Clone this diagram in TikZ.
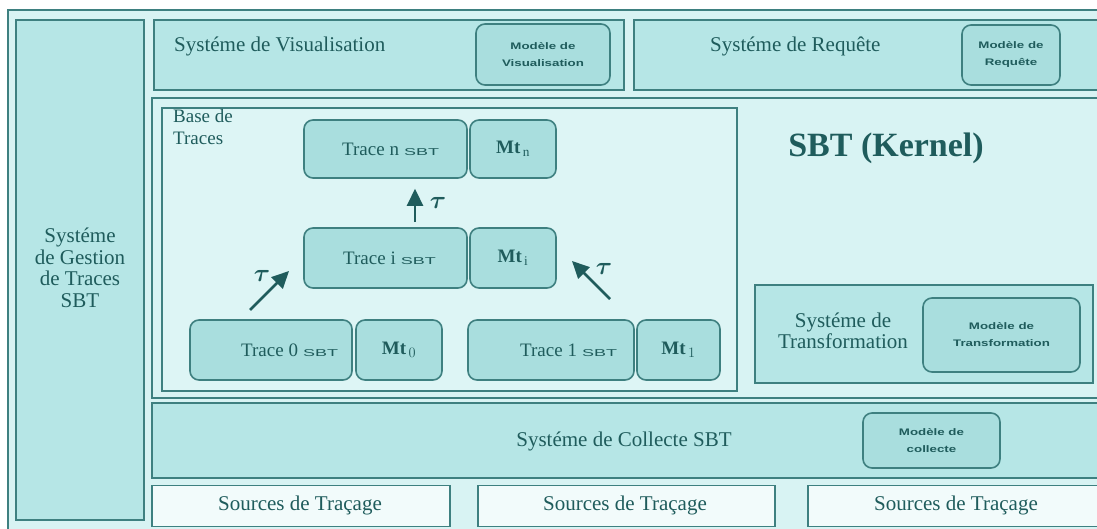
\documentclass[tikz,border=0pt]{standalone}
\usepackage{fontspec}
\usepackage{amsmath}
\usepackage{graphicx}
\setmainfont{Liberation Serif}
\newfontfamily\smallsans{Liberation Sans}
\usetikzlibrary{arrows.meta}
\definecolor{edge}{HTML}{3E8080}
\definecolor{txt}{HTML}{1F5C5C}
\definecolor{boxfill}{HTML}{B6E6E6}
\definecolor{bgfill}{HTML}{D8F3F3}
\definecolor{basefill}{HTML}{DDF5F5}
\definecolor{modfill}{HTML}{A9DEDE}
\definecolor{srcfill}{HTML}{F2FBFB}
\tikzset{
  sysbox/.style={draw=edge, line width=2pt, fill=boxfill, inner sep=0pt},
  kbox/.style={draw=edge, line width=2.4pt, fill=bgfill, inner sep=0pt},
  basebox/.style={draw=edge, line width=1.5pt, fill=basefill, inner sep=0pt},
  rbox/.style={draw=edge, line width=1.6pt, fill=modfill, rounded corners=9pt, inner sep=0pt, text=txt},
  srcbox/.style={draw=edge, line width=1.8pt, fill=srcfill, inner sep=0pt},
  lbl/.style={text=txt, font=\fontsize{21}{21.5}\selectfont, inner sep=0pt, align=center},
  modlbl/.style={text=txt, inner sep=0pt, align=center, font=\smallsans\bfseries\fontsize{9.5}{17}\selectfont},
  tr/.style={text=txt, inner sep=0pt, font=\fontsize{19}{19}\selectfont},
  mt/.style={text=txt, inner sep=0pt, font=\bfseries\fontsize{19}{19}\selectfont},
  arr/.style={draw=txt, line width=2.6pt, -{Triangle[length=17pt,width=16pt]}},
  tau/.style={text=txt, font=\fontsize{26}{26}\selectfont, inner sep=0pt}
}
\newcommand{\sbt}{\hspace{5pt}{\smallsans\fontsize{10}{10}\selectfont\scalebox{1.8}[1]{SBT}}}
\newcommand{\modtxt}[2]{\scalebox{1.4}[1]{#1}\\\scalebox{1.4}[1]{#2}}
\newcommand{\btau}{$\boldsymbol{\tau}$}
\begin{document}
\begin{tikzpicture}[x=1pt,y=-1pt]
\useasboundingbox (0,0) rectangle (1097,529);
\fill[white] (0,0) rectangle (1097,529);
% outer frame
\draw[draw=edge, line width=2pt, fill=bgfill] (8,10) rectangle (1110,540);
% left column
\node[sysbox, minimum width=128, minimum height=500] (gest) at (80,270) {};
\node[lbl] (gestt) at (80,268) {Systéme\\de Gestion\\de Traces\\SBT};
% visualisation
\node[sysbox, minimum width=470, minimum height=70] (visu) at (389,55) {};
\node[lbl, anchor=west] (visut) at (174,46) {Systéme de Visualisation};
\node[rbox, minimum width=134, minimum height=61] (mvisu) at (543,54.5) {};
\node[modlbl] at (mvisu) {\modtxt{Modèle de}{Visualisation}};
% requete
\node[sysbox, minimum width=470, minimum height=70] (req) at (869,55) {};
\node[lbl, anchor=west] (reqt) at (710,46) {Systéme de Requête};
\node[rbox, minimum width=98, minimum height=60] (mreq) at (1011,55) {};
\node[modlbl] at (mreq) {\modtxt{Modèle de}{Requête}};
% kernel
\node[kbox, minimum width=960, minimum height=300] (kern) at (632,248) {};
\node[text=txt, font=\bfseries\fontsize{34}{36}\selectfont, inner sep=0pt, anchor=base] (kernt) at (886,157) {SBT (Kernel)};
% base de traces
\node[basebox, minimum width=575, minimum height=283] (base) at (449.5,249.5) {};
\node[text=txt, font=\fontsize{19}{22}\selectfont, align=left, inner sep=0pt, anchor=north west] (baset) at (173,109) {Base de\\Traces};
% traces
\node[rbox, minimum width=163, minimum height=58] (tn) at (385.5,149) {};
\node[tr, anchor=west] at (342,149) {Trace n\sbt};
\node[rbox, minimum width=86, minimum height=58] (mtn) at (513,149) {};
\node[mt] at (mtn) {Mt$_{\,\mathrm{n}}$};
\node[rbox, minimum width=163, minimum height=60] (ti) at (385.5,258) {};
\node[tr, anchor=west] at (343,258) {Trace i\sbt};
\node[rbox, minimum width=86, minimum height=60] (mti) at (513,258) {};
\node[mt] at (mti) {Mt$_{\,\mathrm{i}}$};
\node[rbox, minimum width=162, minimum height=60] (t0) at (271,350) {};
\node[tr, anchor=west] at (241,350) {Trace 0\sbt};
\node[rbox, minimum width=86, minimum height=60] (mt0) at (399,350) {};
\node[mt] at (mt0) {Mt$_{\,0}$};
\node[rbox, minimum width=166, minimum height=60] (t1) at (551,350) {};
\node[tr, anchor=west] at (520,350) {Trace 1\sbt};
\node[rbox, minimum width=83, minimum height=60] (mt1) at (678.5,350) {};
\node[mt] at (mt1) {Mt$_{\,1}$};
% arrows
\draw[arr, shorten <=5pt, shorten >=10pt] ([xshift=29.5pt]ti.north) -- ([xshift=29.5pt]tn.south);
\node[tau] at (438,203) {\btau};
\coordinate (la) at (250,310);
\coordinate (lb) at (289,271);
\draw[arr] (la) -- (lb);
\node[tau] at (262,276) {\btau};
\coordinate (ra) at (610,299);
\coordinate (rb) at (572,261);
\draw[arr] (ra) -- (rb);
\node[tau] at (604,269) {\btau};
% transformation
\node[sysbox, minimum width=338, minimum height=98] (trf) at (924,334) {};
\node[lbl] (trft) at (843,331) {Systéme de\\Transformation};
\node[rbox, minimum width=157, minimum height=74] (mtrf) at (1001.5,335) {};
\node[modlbl] at (mtrf) {\modtxt{Modèle de}{Transformation}};
% collecte
\node[sysbox, minimum width=960, minimum height=75] (coll) at (632,440) {};
\node[lbl] (collt) at (624,441) {Systéme de Collecte SBT};
\node[rbox, minimum width=137, minimum height=55] (mcoll) at (931.5,440.5) {};
\node[modlbl] at (mcoll) {\modtxt{Modèle de}{collecte}};
% sources
\node[srcbox, minimum width=298, minimum height=41] (s1) at (301,506) {};
\node[lbl] at (300,505) {Sources de Traçage};
\node[srcbox, minimum width=297, minimum height=41] (s2) at (626.5,506) {};
\node[lbl] at (625,505) {Sources de Traçage};
\node[srcbox, minimum width=310, minimum height=41] (s3) at (963,506) {};
\node[lbl] at (956,505) {Sources de Traçage};
\end{tikzpicture}
\end{document}
